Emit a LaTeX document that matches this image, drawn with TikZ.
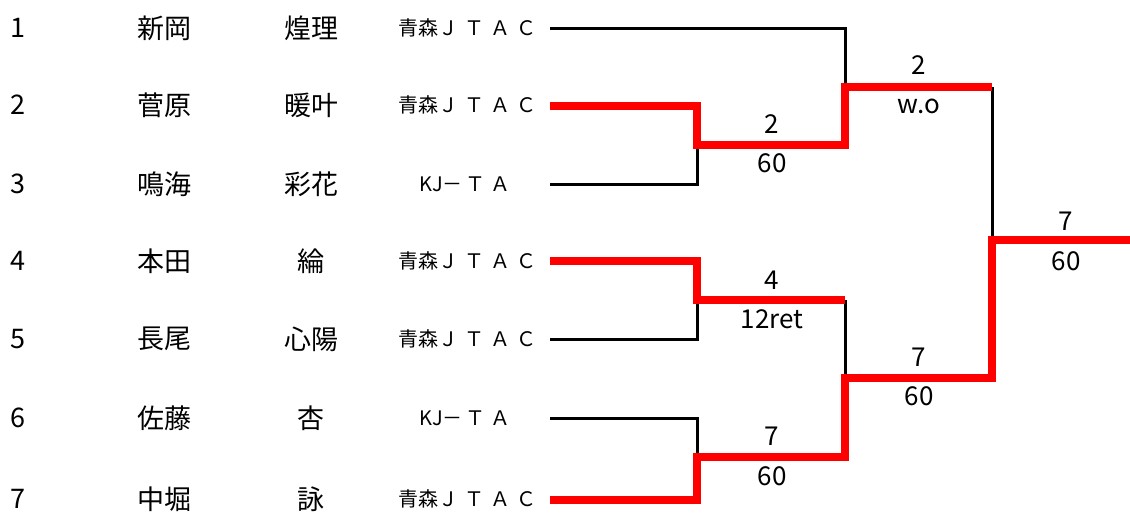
\documentclass[tikz,border=0pt]{standalone}
\usepackage{fontspec}
\setmainfont{Noto Sans CJK JP}
\begin{document}
\begin{tikzpicture}[x=1pt,y=-1pt,line join=miter,
  blk/.style={draw=black,line width=3pt},
  win/.style={draw=red,line width=8pt},
  nm/.style={font=\fontsize{27}{32}\selectfont,inner sep=0pt},
  club/.style={font=\fontsize{20}{24}\selectfont,inner sep=0pt,anchor=west},
  lbl/.style={font=\fontsize{26}{30}\selectfont,inner sep=0pt}]
\useasboundingbox (0,0) rectangle (1130,514);
% entry points
\coordinate (p1) at (550,28);
\coordinate (p2) at (550,106);
\coordinate (p3) at (550,184);
\coordinate (p4) at (550,261);
\coordinate (p5) at (550,339);
\coordinate (p6) at (550,418);
\coordinate (p7) at (550,500);
% junctions
\coordinate (a1) at (697,145);
\coordinate (a2) at (697,300);
\coordinate (a3) at (697,457);
\coordinate (b1) at (845,87);
\coordinate (b2) at (845,378);
\coordinate (c1) at (992,240);
\coordinate (fin) at (1130,240);
% names
\foreach \i/\y/\sn/\gn in {1/28/新岡/煌理,2/105/菅原/暖叶,3/184/鳴海/彩花,4/261/本田/綸,5/339/長尾/心陽,6/418/佐藤/杏,7/499/中堀/詠}{
  \node[nm] (n\i) at (18,\y) {\i};
  \node[nm] (s\i) at (164,\y) {\sn};
  \node[nm] (g\i) at (311,\y) {\gn};
}
\foreach \i/\y in {1/28,2/105,4/261,5/339,7/499}{
  \node[club] (k\i) at (398,\y) {青森Ｊ\kern6ptＴ\kern6ptＡ\kern6ptＣ};
}
\foreach \i/\y in {3/184,6/418}{
  \node[club] (k\i) at (419,\y) {KJ－\kern3ptＴ\kern5ptＡ};
}
% losers' lines
\draw[blk] (p1) -| (b1);
\draw[blk] (p3) -| (a1);
\draw[blk] (p5) -| (a2);
\draw[blk] (p6) -| (a3);
\draw[blk] (a2 -| b2) -- (b2);
\draw[blk] (b1 -| c1) -- (c1);
% winners' lines
\draw[win] (p2) -| (a1) -- (a1 -| b1) -- (b1) -- (b1 -| c1);
\draw[win] (p4) -| (a2) -- (a2 -| b2);
\draw[win] (p7) -| (a3) -- (a3 -| b2) -- (b2) -- (b2 -| c1) -- (c1) -- (fin);
% scores
\node[lbl] (w1) at (772,124) {2};
\node[lbl] (r1) at (772,163) {60};
\node[lbl] (w2) at (772,280) {4};
\node[lbl] (r2) at (772,319) {12ret};
\node[lbl] (w3) at (772,436) {7};
\node[lbl] (r3) at (772,476) {60};
\node[lbl] (w4) at (919,65) {2};
\node[lbl] (r4) at (919,106) {w.o};
\node[lbl] (w5) at (919,357) {7};
\node[lbl] (r5) at (919,396) {60};
\node[lbl] (w6) at (1066,221) {7};
\node[lbl] (r6) at (1066,261) {60};
\end{tikzpicture}
\end{document}
